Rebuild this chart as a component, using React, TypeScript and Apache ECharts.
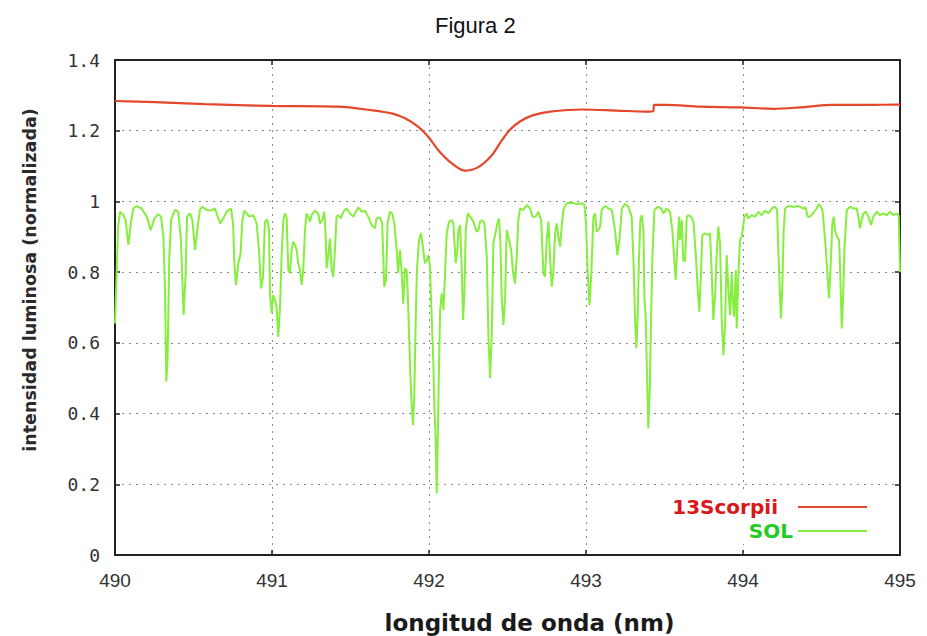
import { useEffect, useRef } from "react";
import * as echarts from "echarts";

// SOL (solar spectrum), wavelength in nm and normalised intensity
const solWavelength = [
  490.0, 490.012, 490.02, 490.032, 490.053, 490.068, 490.085, 490.102, 490.117, 490.138, 490.17, 490.202,
  490.227, 490.251, 490.276, 490.293, 490.308, 490.318, 490.327, 490.335, 490.346, 490.357, 490.382, 490.403,
  490.42, 490.437, 490.45, 490.459, 490.478, 490.493, 490.51, 490.527, 490.541, 490.556, 490.584, 490.611,
  490.637, 490.669, 490.69, 490.711, 490.739, 490.752, 490.76, 490.771, 490.786, 490.8, 490.811, 490.824,
  490.839, 490.856, 490.881, 490.902, 490.917, 490.93, 490.943, 490.955, 490.97, 490.981, 490.987, 490.998,
  491.008, 491.019, 491.029, 491.04, 491.051, 491.061, 491.072, 491.082, 491.093, 491.104, 491.114, 491.125,
  491.135, 491.146, 491.157, 491.167, 491.178, 491.189, 491.199, 491.21, 491.22, 491.231, 491.242, 491.252,
  491.273, 491.295, 491.305, 491.32, 491.333, 491.341, 491.348, 491.358, 491.369, 491.38, 491.39, 491.401,
  491.411, 491.422, 491.439, 491.454, 491.475, 491.496, 491.518, 491.549, 491.571, 491.592, 491.613, 491.634,
  491.656, 491.666, 491.687, 491.702, 491.715, 491.726, 491.736, 491.751, 491.766, 491.779, 491.794, 491.804,
  491.815, 491.825, 491.836, 491.847, 491.857, 491.864, 491.872, 491.881, 491.889, 491.898, 491.906, 491.915,
  491.923, 491.936, 491.949, 491.961, 491.974, 491.987, 491.995, 492.006, 492.017, 492.028, 492.034, 492.043,
  492.049, 492.056, 492.064, 492.071, 492.081, 492.092, 492.102, 492.113, 492.128, 492.145, 492.155, 492.17,
  492.181, 492.187, 492.198, 492.209, 492.217, 492.226, 492.234, 492.247, 492.262, 492.283, 492.304, 492.315,
  492.325, 492.34, 492.353, 492.368, 492.378, 492.389, 492.4, 492.41, 492.425, 492.438, 492.446, 492.455,
  492.463, 492.474, 492.485, 492.495, 492.51, 492.523, 492.536, 492.548, 492.559, 492.569, 492.58, 492.601,
  492.623, 492.644, 492.659, 492.68, 492.697, 492.714, 492.729, 492.739, 492.75, 492.761, 492.771, 492.782,
  492.792, 492.803, 492.814, 492.824, 492.835, 492.845, 492.856, 492.877, 492.909, 492.941, 492.973, 492.99,
  493.0, 493.011, 493.022, 493.034, 493.047, 493.058, 493.068, 493.079, 493.09, 493.1, 493.121, 493.143,
  493.164, 493.185, 493.2, 493.213, 493.228, 493.249, 493.27, 493.291, 493.304, 493.312, 493.321, 493.329,
  493.338, 493.346, 493.355, 493.366, 493.372, 493.38, 493.389, 493.397, 493.406, 493.414, 493.423, 493.436,
  493.457, 493.478, 493.493, 493.514, 493.535, 493.55, 493.561, 493.571, 493.584, 493.593, 493.599, 493.61,
  493.62, 493.631, 493.642, 493.652, 493.669, 493.684, 493.699, 493.712, 493.722, 493.733, 493.741, 493.758,
  493.775, 493.79, 493.801, 493.811, 493.822, 493.833, 493.843, 493.854, 493.864, 493.875, 493.886, 493.896,
  493.907, 493.918, 493.928, 493.935, 493.943, 493.954, 493.96, 493.971, 493.981, 493.992, 494.009, 494.024,
  494.034, 494.055, 494.077, 494.098, 494.119, 494.14, 494.162, 494.183, 494.204, 494.217, 494.225, 494.234,
  494.242, 494.251, 494.259, 494.268, 494.289, 494.321, 494.353, 494.385, 494.399, 494.412, 494.427, 494.448,
  494.469, 494.484, 494.506, 494.523, 494.535, 494.548, 494.561, 494.569, 494.578, 494.586, 494.599, 494.612,
  494.62, 494.629, 494.637, 494.646, 494.661, 494.682, 494.703, 494.724, 494.735, 494.745, 494.756, 494.767,
  494.782, 494.799, 494.816, 494.83, 494.852, 494.873, 494.894, 494.915, 494.937, 494.958, 494.979, 494.992,
  495.0,
];
const solIntensity = [
  0.655, 0.82, 0.93, 0.971, 0.962, 0.947, 0.877, 0.943, 0.98, 0.987, 0.98, 0.957,
  0.919, 0.952, 0.964, 0.957, 0.9, 0.759, 0.49, 0.561, 0.844, 0.947, 0.976, 0.971,
  0.891, 0.679, 0.797, 0.957, 0.966, 0.947, 0.863, 0.929, 0.976, 0.985, 0.976, 0.974,
  0.98, 0.938, 0.952, 0.971, 0.98, 0.938, 0.825, 0.764, 0.825, 0.853, 0.947, 0.974,
  0.966, 0.957, 0.961, 0.938, 0.863, 0.754, 0.787, 0.943, 0.949, 0.919, 0.74, 0.683,
  0.735, 0.721, 0.702, 0.617, 0.702, 0.844, 0.947, 0.966, 0.957, 0.806, 0.797, 0.863,
  0.886, 0.877, 0.863, 0.825, 0.806, 0.764, 0.806, 0.919, 0.966, 0.957, 0.943, 0.961,
  0.974, 0.966, 0.938, 0.947, 0.971, 0.91, 0.811, 0.844, 0.895, 0.806, 0.787, 0.863,
  0.957, 0.961, 0.952, 0.971, 0.98, 0.966, 0.957, 0.983, 0.971, 0.974, 0.957, 0.933,
  0.924, 0.952, 0.955, 0.938, 0.759, 0.778, 0.938, 0.971, 0.966, 0.938, 0.863, 0.797,
  0.863, 0.806, 0.711, 0.811, 0.806, 0.749, 0.636, 0.514, 0.429, 0.368, 0.448, 0.655,
  0.806, 0.891, 0.91, 0.872, 0.825, 0.834, 0.848, 0.815, 0.674, 0.54, 0.42, 0.326,
  0.174, 0.326, 0.542, 0.693, 0.74, 0.693, 0.797, 0.91, 0.943, 0.947, 0.938, 0.825,
  0.863, 0.919, 0.933, 0.806, 0.665, 0.749, 0.919, 0.966, 0.957, 0.943, 0.914, 0.919,
  0.943, 0.947, 0.938, 0.844, 0.627, 0.5, 0.627, 0.882, 0.914, 0.943, 0.952, 0.882,
  0.731, 0.651, 0.731, 0.919, 0.891, 0.863, 0.797, 0.768, 0.844, 0.947, 0.98, 0.976,
  0.99, 0.98, 0.957, 0.957, 0.971, 0.947, 0.797, 0.787, 0.891, 0.943, 0.844, 0.759,
  0.797, 0.91, 0.938, 0.9, 0.872, 0.929, 0.976, 0.995, 0.996, 0.993, 0.995, 0.99,
  0.938, 0.797, 0.707, 0.797, 0.957, 0.966, 0.914, 0.919, 0.929, 0.976, 0.987, 0.98,
  0.976, 0.919, 0.848, 0.891, 0.98, 0.993, 0.985, 0.957, 0.815, 0.674, 0.584, 0.674,
  0.844, 0.947, 0.961, 0.919, 0.731, 0.674, 0.504, 0.358, 0.467, 0.655, 0.844, 0.976,
  0.985, 0.98, 0.966, 0.98, 0.971, 0.919, 0.844, 0.778, 0.891, 0.957, 0.891, 0.947,
  0.834, 0.83, 0.957, 0.961, 0.957, 0.943, 0.853, 0.749, 0.688, 0.806, 0.905, 0.91,
  0.905, 0.91, 0.797, 0.665, 0.731, 0.853, 0.929, 0.882, 0.674, 0.565, 0.655, 0.848,
  0.749, 0.679, 0.797, 0.721, 0.674, 0.806, 0.641, 0.797, 0.891, 0.9, 0.957, 0.966,
  0.952, 0.961, 0.957, 0.971, 0.961, 0.974, 0.966, 0.98, 0.985, 0.976, 0.863, 0.749,
  0.669, 0.768, 0.919, 0.98, 0.987, 0.985, 0.987, 0.98, 0.983, 0.957, 0.957, 0.968,
  0.98, 0.993, 0.976, 0.891, 0.815, 0.726, 0.844, 0.938, 0.957, 0.919, 0.9, 0.891,
  0.787, 0.641, 0.721, 0.863, 0.976, 0.985, 0.98, 0.98, 0.957, 0.924, 0.947, 0.966,
  0.971, 0.957, 0.933, 0.957, 0.971, 0.961, 0.966, 0.961, 0.971, 0.961, 0.966, 0.96,
  0.8,
];

// 13 Scorpii spectrum
const scoWavelength = [
  490.0, 490.254, 490.573, 490.998, 491.422, 491.634, 491.762, 491.847, 491.932, 491.995, 492.059, 492.144,
  492.229, 492.314, 492.399, 492.452, 492.484, 492.516, 492.579, 492.664, 492.77, 492.983, 493.195, 493.386,
  493.429, 493.433, 493.514, 493.726, 493.981, 494.193, 494.363, 494.575, 494.787, 494.979, 495.0,
];
const scoIntensity = [
  1.284, 1.281, 1.275, 1.27, 1.268, 1.258, 1.249, 1.235, 1.211, 1.183, 1.145, 1.108,
  1.087, 1.097, 1.13, 1.165, 1.185, 1.203, 1.226, 1.244, 1.254, 1.26, 1.257, 1.254,
  1.256, 1.273, 1.273, 1.268, 1.266, 1.262, 1.266, 1.273, 1.273, 1.274, 1.274,
];

const seriesNames = ["13Scorpii", "SOL"];

export default function App() {
  const ref = useRef<HTMLDivElement>(null);

  useEffect(() => {
    if (!ref.current) return;
    const chart = echarts.init(ref.current, null, { renderer: "svg" });
    const solData = solWavelength.map((w, i) => [w, solIntensity[i]]);
    const scoData = scoWavelength.map((w, i) => [w, scoIntensity[i]]);

    const frame = { show: true, onZero: false, lineStyle: { color: "#222", width: 2 } };
    const tick = { show: true, inside: true, length: 5, lineStyle: { color: "#222", width: 1.5 } };
    const grid = { show: true, lineStyle: { color: "#888", width: 1, type: [2, 5] } };

    chart.setOption({
      animation: false,
      backgroundColor: "#fff",
      title: {
        text: "Figura 2",
        left: 430,
        top: 9,
        textStyle: { fontFamily: "Liberation Sans", fontSize: 22, fontWeight: "normal", color: "#111" },
      },
      grid: { left: 115, right: 27, top: 60, bottom: 81, outerBoundsMode: "none", containLabel: false },
      legend: {
        orient: "vertical",
        right: 29,
        top: 493,
        align: "right",
        itemWidth: 69,
        itemHeight: 14,
        itemGap: 4,
        padding: [4, 30, 3, 12],
        backgroundColor: "#fff",
        itemStyle: { opacity: 0 },
        textStyle: { fontFamily: "DejaVu Sans", fontWeight: "bold", fontSize: 20 },
        data: [
          { name: seriesNames[0], textStyle: { color: "#d81818", padding: [0, 15, 0, 0] } },
          { name: seriesNames[1], textStyle: { color: "#22cc22" } },
        ],
      },
      xAxis: [
        {
          type: "value",
          min: 490,
          max: 495,
          interval: 1,
          name: "longitud de onda (nm)",
          nameLocation: "middle",
          nameGap: 56,
          nameTextStyle: {
            fontFamily: "DejaVu Sans",
            fontSize: 23,
            fontWeight: "bold",
            color: "#1a1a1a",
            padding: [0, 0, 0, 44],
          },
          axisLine: frame,
          axisTick: tick,
          splitLine: grid,
          axisLabel: { margin: 16, fontFamily: "Liberation Sans", fontSize: 19, color: "#333" },
        },
        {
          type: "value",
          position: "top",
          min: 490,
          max: 495,
          interval: 1,
          axisLine: frame,
          axisTick: tick,
          splitLine: { show: false },
          axisLabel: { show: false },
        },
      ],
      yAxis: [
        {
          type: "value",
          min: 0,
          max: 1.4,
          interval: 0.2,
          name: "intensidad luminosa (normalizada)",
          nameLocation: "middle",
          nameGap: 76,
          nameTextStyle: {
            fontFamily: "DejaVu Sans",
            fontSize: 17.5,
            fontWeight: "bold",
            color: "#2a2a2a",
            padding: [0, 0, 0, 55],
          },
          axisLine: frame,
          axisTick: tick,
          splitLine: grid,
          axisLabel: { margin: 15, fontFamily: "DejaVu Sans Mono", fontSize: 18, color: "#333" },
        },
        {
          type: "value",
          position: "right",
          min: 0,
          max: 1.4,
          interval: 0.2,
          axisLine: frame,
          axisTick: tick,
          splitLine: { show: false },
          axisLabel: { show: false },
        },
      ],
      series: [
        {
          name: seriesNames[0],
          type: "line",
          data: scoData,
          symbol: "none",
          smooth: 0.3,
          xAxisIndex: 0,
          yAxisIndex: 0,
          itemStyle: { color: "#e4472b" },
          lineStyle: { color: "#e4472b", width: 2.2 },
        },
        {
          name: seriesNames[1],
          type: "line",
          data: solData,
          symbol: "none",
          xAxisIndex: 0,
          yAxisIndex: 0,
          itemStyle: { color: "#86ee3e" },
          lineStyle: { color: "#86ee3e", width: 2 },
        },
      ],
    });
    return () => chart.dispose();
  }, []);

  return (
    <div
      ref={ref}
      style={{ position: "fixed", left: 0, top: 0, width: 927, height: 636 }}
    />
  );
}
